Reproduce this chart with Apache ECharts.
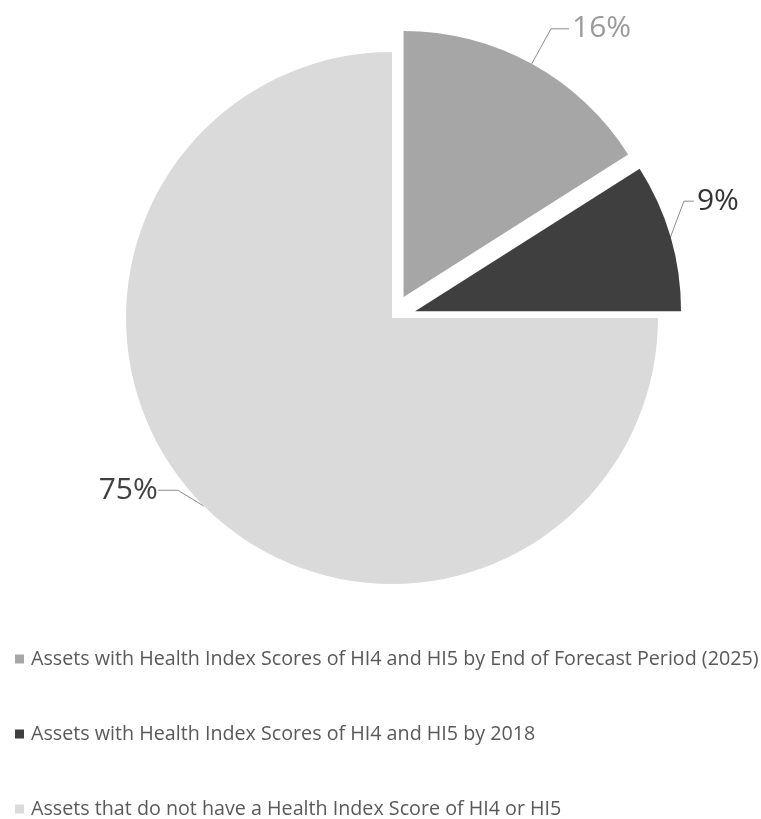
<!DOCTYPE html>
<html>
<head>
<meta charset="utf-8">
<script src="https://cdn.jsdelivr.net/npm/echarts@6/dist/echarts.min.js"></script>
<style>
html,body{margin:0;padding:0;background:#fff;}
#chart{width:761px;height:819px;}
</style>
</head>
<body>
<div id="chart"></div>
<script>
const categories = [
  'Assets with Health Index Scores of HI4 and HI5 by End of Forecast Period (2025)',
  'Assets with Health Index Scores of HI4 and HI5 by 2018',
  'Assets that do not have a Health Index Score of HI4 or HI5'
];
const values = [16, 9, 75];
const sliceColors = ['#a6a6a6', '#3f3f3f', '#dadada'];
const labelColors = ['#9a9a9a', '#333333', '#404040'];
const exploded = [true, true, false];

const chart = echarts.init(document.getElementById('chart'));
const lineLens = [[40, 18], [14, 10], [20, 20]];
const labelShift = [[0, 0], [0, -32], [-9, -30]];
const data = categories.map((name, i) => ({
  name: name,
  value: values[i],
  selected: exploded[i],
  itemStyle: { color: sliceColors[i] },
  label: { color: labelColors[i] },
  labelLine: { length: lineLens[i][0], length2: lineLens[i][1] }
}));

chart.setOption({
  animation: false,
  legend: {
    orient: 'vertical',
    left: 10,
    top: 644,
    height: 200,
    itemWidth: 9,
    itemHeight: 9,
    itemGap: 55,
    icon: 'rect',
    selectedMode: false,
    textStyle: { fontFamily: 'Open Sans', fontSize: 19.7, color: '#595959', padding: [0, 0, 0, 2] },
    data: categories
  },
  series: [{
    type: 'pie',
    center: [392, 318],
    radius: 266,
    startAngle: 90,
    clockwise: true,
    selectedMode: 'multiple',
    selectedOffset: 24,
    emphasis: { disabled: true },
    label: {
      show: true,
      position: 'outside',
      formatter: '{c}%',
      fontFamily: 'Open Sans',
      fontSize: 30,
      distanceToLabelLine: 3
    },
    labelLine: {
      show: true,
      lineStyle: { color: '#8c8c8c', width: 1 }
    },
    labelLayout: function (p) {
      const s = labelShift[p.dataIndex];
      if (!s[0] && !s[1]) return {};
      if (exploded[p.dataIndex]) {
        const pts = p.labelLinePoints;
        return {
          dx: s[0], dy: s[1],
          labelLinePoints: [
            [pts[0][0], pts[0][1]],
            [pts[1][0] + s[0], pts[1][1] + s[1]],
            [pts[2][0] + s[0], pts[2][1] + s[1]]
          ]
        };
      }
      const r = p.labelRect;
      const ax = p.align === 'right' ? r.x + r.width : r.x;
      return { x: ax + s[0], y: r.y + r.height / 2 + s[1] };
    },
    data: data
  }]
});
</script>
</body>
</html>
